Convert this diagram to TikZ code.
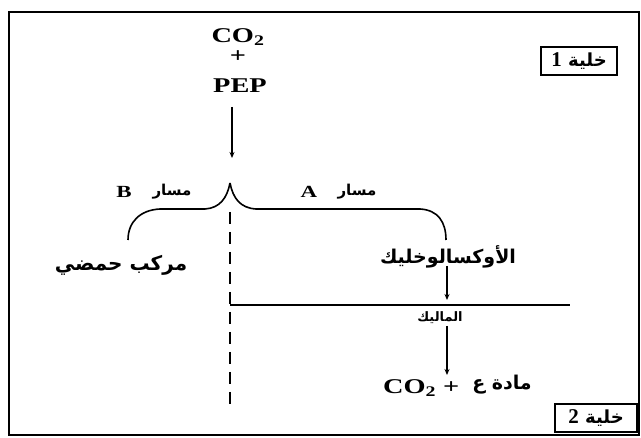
\documentclass[tikz,border=0pt]{standalone}
\usepackage{fontspec}
\setmainfont{Liberation Serif}
\newfontfamily\lat[FakeStretch=1.35]{Liberation Serif}
\newfontfamily\ar[Script=Arabic]{DejaVu Sans}
\TeXXeTstate=1
\usetikzlibrary{arrows.meta}
\begin{document}
\begin{tikzpicture}[x=1pt,y=-1pt,
  lbl/.style={inner sep=0pt,font=\lat\bfseries\fontsize{21}{23}\selectfont},
  arl/.style={inner sep=0pt,font=\ar\bfseries\fontsize{15}{17}\selectfont},
  ln/.style={line width=1.6pt},
  arr/.style={line width=1.6pt,-{Stealth[length=6pt,width=5pt]}},
  cellbox/.style={draw,line width=1.8pt,inner sep=2.5pt,minimum height=28pt,font=\ar\bfseries\fontsize{18}{20}\selectfont}]
\useasboundingbox (0,0) rectangle (641,438);
\draw[line width=2.6pt] (9,12) rectangle (639,435);
% top
\node[lbl] (co2) at (238,37) {CO\textsubscript{2}};
\node[lbl] (plus) at (238,57) {+};
\node[lbl] (pep) at (240,86) {PEP};
\coordinate (tip) at (230,183);
\draw[arr] (232,107) -- (232,158);
% brace
\coordinate (bl) at (128,240);
\coordinate (br) at (446,240);
\draw[ln] (tip) .. controls (227,198) and (220,208) .. (205,209) -- (160,209) .. controls (140,210) and (128,222) .. (bl);
\draw[ln] (tip) .. controls (233,198) and (240,208) .. (256,209) -- (420,209) .. controls (438,210) and (446,222) .. (br);
% dashed line
\coordinate (d1) at (230,212);
\coordinate (d2) at (230,410);
\draw[line width=1.6pt,dash pattern=on 12pt off 8pt] (d1) -- (d2);
% path labels
\node[lbl,font=\lat\bfseries\fontsize{17}{19}\selectfont] (bB) at (124,192) {B};
\node[arl] (mB) at (172,192) {\beginR مسار\endR};
\node[lbl,font=\lat\bfseries\fontsize{17}{19}\selectfont] (bA) at (309,192) {A};
\node[arl] (mA) at (357,192) {\beginR مسار\endR};
% products
\node[arl,font=\ar\bfseries\fontsize{20}{22}\selectfont] (acid) at (121,265) {\beginR مركب حمضي\endR};
\node[arl,font=\ar\bfseries\fontsize{19}{21}\selectfont] (oxa) at (448,257) {\beginR الأوكسالوخليك\endR};
\draw[arr] (447,266) -- (447,300);
\coordinate (hl) at (230,305);
\coordinate (hr) at (570,305);
\draw[ln] (hl) -- (hr);
\node[arl,font=\ar\bfseries\fontsize{13}{15}\selectfont] (mal) at (440,318) {\beginR الماليك\endR};
\draw[arr] (447,326) -- (447,375);
\node[lbl,anchor=west] (co2b) at (383,388) {CO\textsubscript{2} +};
\node[arl,font=\ar\bfseries\fontsize{19}{21}\selectfont] (mat) at (502,385) {\beginR مادة ع\endR};
% cell labels
\node[cellbox,anchor=north east,minimum width=76pt] (c1) at (618,46) {\beginR خلية \textrm{\bfseries\fontsize{21}{23}\selectfont 1}\endR};
\node[cellbox,anchor=north east,minimum width=82pt] (c2) at (638,403) {\beginR خلية \textrm{\bfseries\fontsize{21}{23}\selectfont 2}\endR};
\end{tikzpicture}
\end{document}
